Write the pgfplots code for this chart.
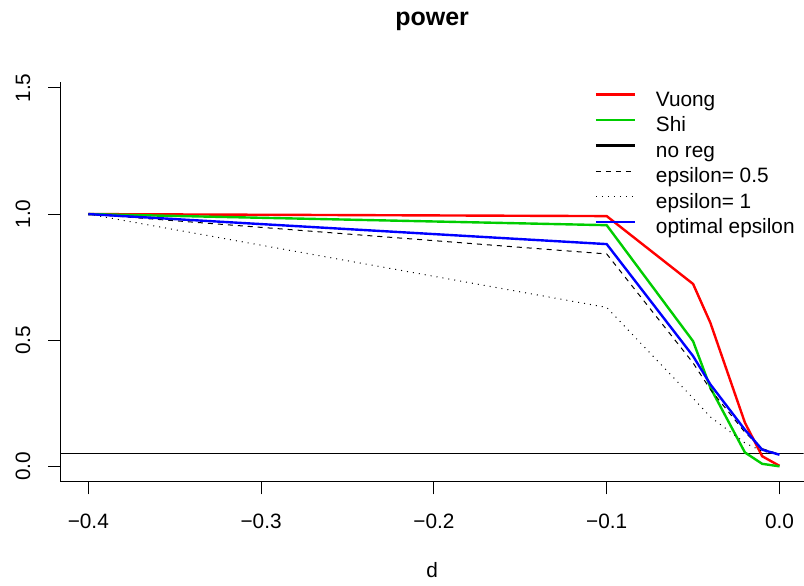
\documentclass[border=0pt]{standalone}
\usepackage{pgfplots}
\pgfplotsset{compat=1.18}
\usepackage{fontspec}
\setmainfont{Liberation Sans}
\usetikzlibrary{calc}
\definecolor{rred}{HTML}{FF0000}
\definecolor{rgreen}{HTML}{00CD00}
\definecolor{rblue}{HTML}{0000FF}
\newcommand{\lfont}{\fontsize{10.4}{12.5}\selectfont}
\begin{document}
\begin{tikzpicture}
\begin{axis}[
  name=ax,
  scale only axis, width=371.65pt, height=200.3pt,
  xmin=-0.416, xmax=0.0139, ymin=-0.062, ymax=1.525,
  axis x line*=bottom, axis y line*=left,
  axis line style={line width=0.5pt, -},
  xtick={-0.4,-0.3,-0.2,-0.1,0}, xticklabels={−0.4,−0.3,−0.2,−0.1,0.0},
  ytick={0,0.5,1,1.5}, yticklabels={0.0,0.5,1.0,1.5},
  tick align=outside, major tick length=6.25pt,
  tick style={line width=0.5pt, black},
  tick label style={font=\lfont},
  xticklabel style={anchor=center, yshift=-13.45pt},
  yticklabel style={xshift=-12.6pt, rotate=90, anchor=center},
  title={power},
  title style={font=\bfseries\fontsize{12.5}{15}\selectfont, at={(axis description cs:0.5,1)}, anchor=center, yshift=24.2pt},
  xlabel={d},
  xlabel style={font=\lfont, at={(axis description cs:0.5,0)}, anchor=center, yshift=-43.85pt},
  legend style={at={(axis description cs:0.7188,0.9808)}, anchor=north west, draw=none, fill=none,
    inner sep=0pt, outer sep=0pt, row sep=0pt, font=\lfont,
    nodes={inner sep=0pt, text height=8.5pt, text depth=4.25pt},
    /tikz/every odd column/.append style={column sep=10pt}},
  legend cell align=left,
  legend image code/.code={\draw[#1] (0pt,3.7pt) -- (19.5pt,3.7pt);},
]
\addplot[black, line width=0.5pt, forget plot] coordinates {(-0.5,0.05) (0.1,0.05)};
\addplot[rred, line width=1.2pt] coordinates {(-0.4,1.0) (-0.1,0.992) (-0.05,0.723) (-0.04,0.569) (-0.02,0.173) (-0.01,0.04) (0,0.002)};
\addlegendentry{Vuong}
\addplot[rgreen, line width=1.2pt] coordinates {(-0.4,1.0) (-0.1,0.956) (-0.05,0.496) (-0.04,0.312) (-0.02,0.055) (-0.01,0.01) (0,0.0)};
\addlegendentry{Shi}
\addlegendimage{black, line width=1.2pt}
\addlegendentry{no reg}
\addplot[black, line width=0.5pt, dash pattern=on 2.5pt off 2.5pt] coordinates {(-0.4,1.0) (-0.1,0.842) (-0.05,0.41) (-0.04,0.305) (-0.02,0.135) (-0.01,0.07) (0,0.048)};
\addlegendentry{epsilon= 0.5}
\addplot[black, line width=0.5pt, dash pattern=on 0.5pt off 2.5pt] coordinates {(-0.4,1.0) (-0.1,0.630) (-0.05,0.27) (-0.04,0.196) (-0.02,0.093) (-0.01,0.06) (0,0.048)};
\addlegendentry{epsilon= 1}
\addplot[rblue, line width=1.2pt] coordinates {(-0.4,1.0) (-0.1,0.881) (-0.05,0.437) (-0.04,0.325) (-0.02,0.145) (-0.01,0.066) (0,0.046)};
\addlegendentry{optimal epsilon}
\end{axis}
\useasboundingbox ($(ax.south west)+(-30.35pt,-51.85pt)$) rectangle ($(ax.north east)+(0pt,40.85pt)$);
\end{tikzpicture}
\end{document}
